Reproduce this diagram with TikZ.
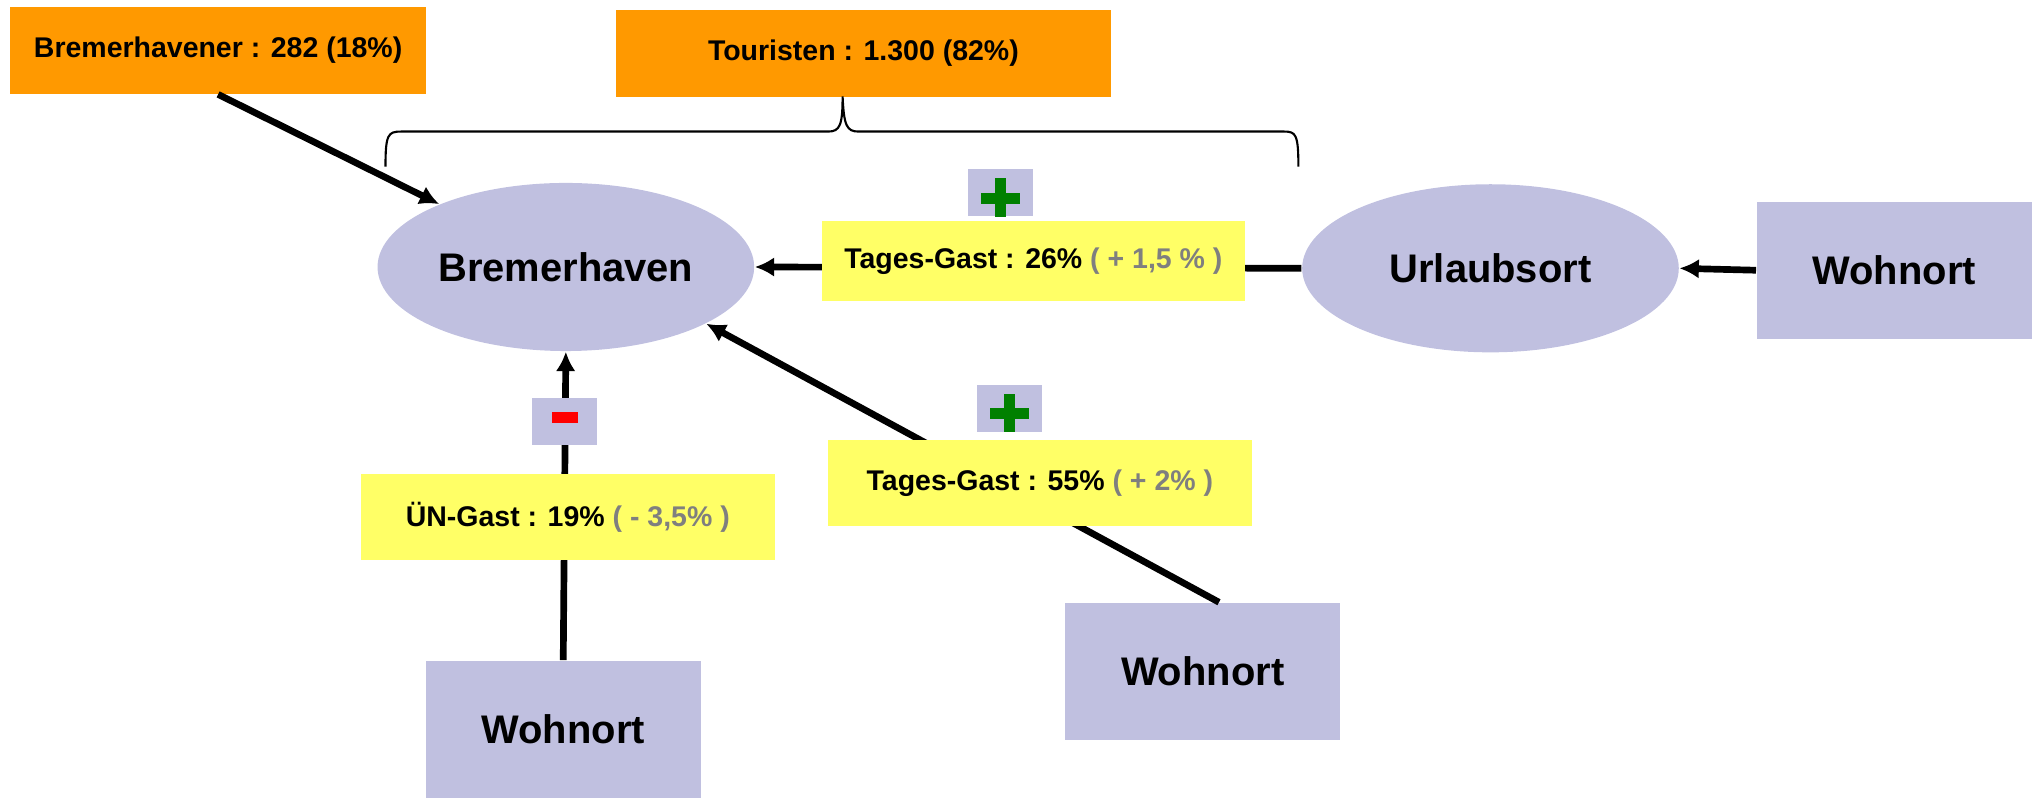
\documentclass[tikz,border=0pt]{standalone}
\usepackage{fontspec}
\setmainfont{Liberation Sans}
\usetikzlibrary{arrows.meta,shapes.geometric}
\definecolor{boxorange}{HTML}{FF9900}
\definecolor{boxlilac}{HTML}{C0C0E0}
\definecolor{boxyellow}{HTML}{FFFF66}
\definecolor{plusgreen}{HTML}{008000}
\definecolor{diffgray}{HTML}{7F7F7F}
\begin{document}
\begin{tikzpicture}[x=0.013023cm, y=-0.013023cm,
	bigfont/.style={font=\fontsize{11.35}{13}\selectfont\bfseries},
	smallfont/.style={font=\fontsize{8.1}{9.7}\selectfont\bfseries},
	ortbox/.style={bigfont, fill=boxlilac, inner sep=0pt,
		minimum width=2.748cm, minimum height=1.367cm},
	ortoval/.style={bigfont, ellipse, fill=boxlilac, inner sep=0pt,
		minimum width=3.764cm, minimum height=1.68cm},
	sumbox/.style={smallfont, fill=boxorange, inner sep=0pt, minimum height=0.87cm},
	gastbox/.style={smallfont, fill=boxyellow, inner sep=0pt, minimum width=4.232cm},
	signbox/.style={fill=boxlilac, inner sep=0pt, minimum width=0.651cm, minimum height=0.469cm},
	flow/.style={line width=1.9pt, -{Latex[length=5.5pt,width=5.6pt]}}
]
\useasboundingbox (0,0) rectangle (1568,612);

% Orte
\node[ortoval] (bremerhaven) at (434.5,205) {Bremerhaven};
\node[ortoval] (urlaubsort) at (1144.5,206) {Urlaubsort};
\foreach \name/\x/\y in {wohnortR/1454.5/207.5, wohnortL/432.5/560, wohnortM/923.5/515.5}{
	\node[ortbox] (\name) at (\x,\y) {Wohnort};
}

% Summen oben
\node[sumbox, minimum width=4.154cm] (bremerhavener) at (167.5,38.5) {Bremerhavener : 282 (18\%)};
\node[sumbox, minimum width=4.949cm] (touristen) at (663,41) {Touristen : 1.300 (82\%)};
\draw[line width=0.6pt] (296,128) .. controls (296,103) and (298,101) .. (308,101)
	-- (636,101) .. controls (645,101) and (647,96) .. (647,74)
	.. controls (648,96) and (650,101) .. (659,101)
	-- (986,101) .. controls (995,101) and (997,103) .. (997,128);

% Stroeme
\draw[flow] (bremerhavener.south) -- (bremerhaven);
\draw[flow] (urlaubsort.west) -- (bremerhaven.east);
\draw[flow] (wohnortR.west) -- (urlaubsort.east);
\draw[flow] (wohnortL.north) -- (bremerhaven.south);
\draw[flow] ([xshift=0.163cm]wohnortM.north) -- (bremerhaven.-22);

% Gaeste
\node[gastbox, minimum height=0.794cm] (tages1) at (793.5,200.5)
	{Tages-Gast : 26\% {\color{diffgray}( + 1,5 \% )}};
\node[gastbox, minimum width=4.141cm, minimum height=0.86cm] (uengast) at (436,397)
	{ÜN-Gast : 19\% {\color{diffgray}( - 3,5\% )}};
\node[gastbox, minimum height=0.86cm] (tages2) at (798.5,371)
	{Tages-Gast : 55\% {\color{diffgray}( + 2\% )}};

% Vorzeichen
\foreach \name/\x/\y in {plusA/768/148, plusB/775/313.5}{
	\node[signbox, path picture={
		\fill[plusgreen] ([shift={(-15,0)}]path picture bounding box.center)
			rectangle ([shift={(15,8.5)}]path picture bounding box.center);
		\fill[plusgreen] ([shift={(-4.25,-11)}]path picture bounding box.center)
			rectangle ([shift={(4.25,19)}]path picture bounding box.center);
	}] (\name) at (\x,\y) {};
}
\node[signbox, path picture={
	\fill[red] ([shift={(-10,-8)}]path picture bounding box.center)
		rectangle ([shift={(10,1)}]path picture bounding box.center);
}] (minus) at (433.5,324) {};
\end{tikzpicture}
\end{document}
